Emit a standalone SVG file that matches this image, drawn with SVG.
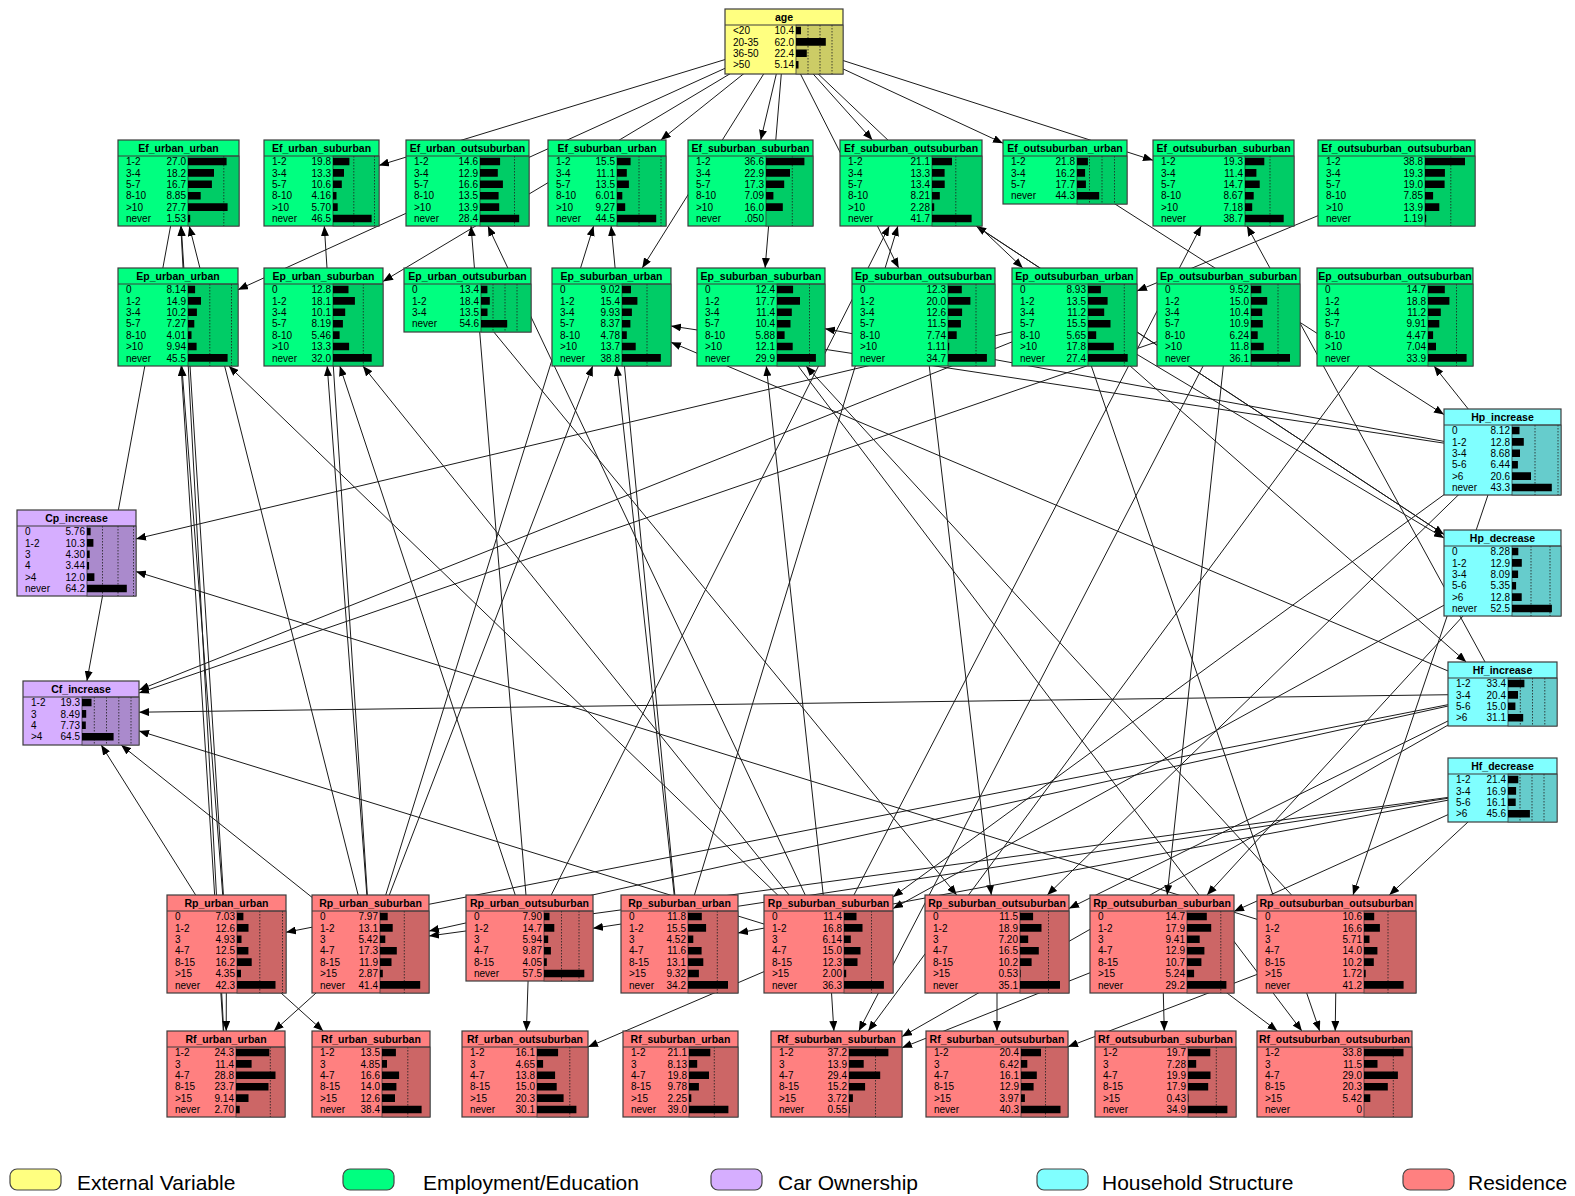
<svg xmlns="http://www.w3.org/2000/svg" width="1575" height="1196" viewBox="0 0 1575 1196">
<defs>
<marker id="ah" markerWidth="10" markerHeight="8" refX="10" refY="4" orient="auto" markerUnits="userSpaceOnUse"><path d="M0,0L10,4L0,8z" fill="#000"/></marker>
<style>
.bx{stroke:#3c3c3c;stroke-width:1.2}
.ba{stroke:#3c3c3c;stroke-width:0.8}
.tl{stroke:#3c3c3c;stroke-width:1;fill:none}
.dt{stroke:#1e1e1e;stroke-width:0.8;stroke-dasharray:1.5 1.5;fill:none}
.br{fill:#000}
.ext .bx{fill:#ffff80}.ext .ba{fill:#cccc66}
.emp .bx{fill:#00ff80}.emp .ba{fill:#00cc66}
.car .bx{fill:#d6aeff}.car .ba{fill:#aa8acc}
.hh .bx{fill:#80ffff}.hh .ba{fill:#66cccc}
.res .bx{fill:#ff8080}.res .ba{fill:#cc6666}
text{font-family:"Liberation Sans",Arial,sans-serif;fill:#000}
.tt{font-size:10.5px;font-weight:bold;text-anchor:middle}
.lb{font-size:10px}
.vl{font-size:10px;text-anchor:end}
.lg{font-size:21px}
.lgb{stroke:#444;stroke-width:1.2}
.ed{stroke:#1a1a1a;stroke-width:1;fill:none;marker-end:url(#ah)}
</style>
</defs>
<rect width="1575" height="1196" fill="#fff"/>
<g id="connectors">
<line class="ed" x1="784" y1="41.5" x2="379" y2="165.4"/>
<line class="ed" x1="784" y1="41.5" x2="238" y2="289.7"/>
<line class="ed" x1="784" y1="41.5" x2="383" y2="281.4"/>
<line class="ed" x1="784" y1="41.5" x2="660.8" y2="140"/>
<line class="ed" x1="784" y1="41.5" x2="642.2" y2="268"/>
<line class="ed" x1="784" y1="41.5" x2="760.7" y2="140"/>
<line class="ed" x1="784" y1="41.5" x2="765.1" y2="268"/>
<line class="ed" x1="784" y1="41.5" x2="872.4" y2="140"/>
<line class="ed" x1="784" y1="41.5" x2="898.7" y2="268"/>
<line class="ed" x1="784" y1="41.5" x2="1022.8" y2="268"/>
<line class="ed" x1="784" y1="41.5" x2="1003" y2="143.2"/>
<line class="ed" x1="784" y1="41.5" x2="1153" y2="160.3"/>
<line class="ed" x1="226.5" y1="944" x2="181.2" y2="226"/>
<line class="ed" x1="226" y1="1074" x2="180.8" y2="226"/>
<line class="ed" x1="370.5" y1="944" x2="189.3" y2="226"/>
<line class="ed" x1="370.5" y1="944" x2="324.3" y2="226"/>
<line class="ed" x1="529.5" y1="938" x2="471" y2="226"/>
<line class="ed" x1="828.5" y1="944" x2="487.9" y2="226"/>
<line class="ed" x1="370.5" y1="944" x2="593.6" y2="226"/>
<line class="ed" x1="679.5" y1="944" x2="611.1" y2="226"/>
<line class="ed" x1="679.5" y1="944" x2="897.9" y2="226"/>
<line class="ed" x1="529.5" y1="938" x2="889.3" y2="226"/>
<line class="ed" x1="1502.5" y1="573" x2="976.2" y2="226"/>
<line class="ed" x1="828.5" y1="944" x2="1201.2" y2="226"/>
<line class="ed" x1="1502.5" y1="694" x2="1247" y2="226"/>
<line class="ed" x1="1396.5" y1="183" x2="1137" y2="291"/>
<line class="ed" x1="828.5" y1="944" x2="228.8" y2="366"/>
<line class="ed" x1="226.5" y1="944" x2="181.8" y2="366"/>
<line class="ed" x1="226" y1="1074" x2="181.1" y2="366"/>
<line class="ed" x1="370.5" y1="944" x2="327.2" y2="366"/>
<line class="ed" x1="529.5" y1="938" x2="339.8" y2="366"/>
<line class="ed" x1="828.5" y1="944" x2="362.9" y2="366"/>
<line class="ed" x1="370.5" y1="944" x2="592.7" y2="366"/>
<line class="ed" x1="679.5" y1="944" x2="616.8" y2="366"/>
<line class="ed" x1="1502.5" y1="452" x2="671" y2="326"/>
<line class="ed" x1="1502.5" y1="694" x2="671" y2="342.2"/>
<line class="ed" x1="1502.5" y1="452" x2="825" y2="328.7"/>
<line class="ed" x1="828.5" y1="944" x2="766.3" y2="366"/>
<line class="ed" x1="1336.5" y1="944" x2="806" y2="366"/>
<line class="ed" x1="1502.5" y1="452" x2="1434" y2="366"/>
<line class="ed" x1="178.5" y1="183" x2="86.9" y2="681"/>
<line class="ed" x1="1074.5" y1="317" x2="139" y2="689.9"/>
<line class="ed" x1="1228.5" y1="317" x2="139" y2="693"/>
<line class="ed" x1="1502.5" y1="694" x2="139" y2="712.2"/>
<line class="ed" x1="828.5" y1="944" x2="139" y2="730.9"/>
<line class="ed" x1="226.5" y1="944" x2="101.2" y2="745"/>
<line class="ed" x1="370.5" y1="944" x2="121.1" y2="745"/>
<line class="ed" x1="1074.5" y1="317" x2="136" y2="538.9"/>
<line class="ed" x1="1336.5" y1="944" x2="136" y2="571.5"/>
<line class="ed" x1="1065" y1="172" x2="1444" y2="414.6"/>
<line class="ed" x1="1074.5" y1="317" x2="1444" y2="538"/>
<line class="ed" x1="1074.5" y1="317" x2="1466.2" y2="662"/>
<line class="ed" x1="911" y1="183" x2="1444" y2="534.4"/>
<line class="ed" x1="1502.5" y1="694" x2="286" y2="932.3"/>
<line class="ed" x1="1502.5" y1="694" x2="429" y2="931.1"/>
<line class="ed" x1="1502.5" y1="790" x2="429" y2="936"/>
<line class="ed" x1="1502.5" y1="790" x2="593" y2="928.3"/>
<line class="ed" x1="1502.5" y1="452" x2="893" y2="896.9"/>
<line class="ed" x1="1502.5" y1="573" x2="893" y2="908.5"/>
<line class="ed" x1="467.5" y1="300" x2="956.7" y2="895"/>
<line class="ed" x1="923.5" y1="317" x2="991.3" y2="895"/>
<line class="ed" x1="1502.5" y1="452" x2="1047.3" y2="895"/>
<line class="ed" x1="1502.5" y1="790" x2="738" y2="933"/>
<line class="ed" x1="1228.5" y1="317" x2="1167.2" y2="895"/>
<line class="ed" x1="1502.5" y1="573" x2="1207" y2="895"/>
<line class="ed" x1="1502.5" y1="790" x2="1234" y2="911.4"/>
<line class="ed" x1="1502.5" y1="452" x2="1353" y2="895"/>
<line class="ed" x1="1502.5" y1="790" x2="1389.3" y2="895"/>
<line class="ed" x1="1502.5" y1="694" x2="1069" y2="908.4"/>
<line class="ed" x1="226.5" y1="944" x2="226.2" y2="1031"/>
<line class="ed" x1="370.5" y1="944" x2="273.8" y2="1031"/>
<line class="ed" x1="226.5" y1="944" x2="323.2" y2="1031"/>
<line class="ed" x1="529.5" y1="938" x2="526.4" y2="1031"/>
<line class="ed" x1="828.5" y1="944" x2="588" y2="1047"/>
<line class="ed" x1="828.5" y1="944" x2="833.9" y2="1031"/>
<line class="ed" x1="1228.5" y1="317" x2="858.8" y2="1031"/>
<line class="ed" x1="1395" y1="317" x2="868.2" y2="1031"/>
<line class="ed" x1="1162" y1="944" x2="902" y2="1047.8"/>
<line class="ed" x1="1502.5" y1="694" x2="902" y2="1036.6"/>
<line class="ed" x1="997" y1="944" x2="997" y2="1031"/>
<line class="ed" x1="1336.5" y1="944" x2="1068" y2="1046.8"/>
<line class="ed" x1="1162" y1="944" x2="1164.3" y2="1031"/>
<line class="ed" x1="1336.5" y1="944" x2="1335.2" y2="1031"/>
<line class="ed" x1="1162" y1="944" x2="1277.4" y2="1031"/>
<line class="ed" x1="761" y1="317" x2="1301.9" y2="1031"/>
<line class="ed" x1="1074.5" y1="317" x2="1319.7" y2="1031"/>
</g>
<g id="age" class="ext" transform="translate(725,9)">
<rect class="bx" width="118" height="65"/><rect class="ba" x="71" y="16" width="47" height="49"/>
<path class="dt" d="M83,16V65M95,16V65M107,16V65"/><path class="tl" d="M0,16H118"/>
<text class="tt" x="59" y="12">age</text>
<text class="lb" x="8" y="25.1">&lt;20</text><text class="vl" x="69" y="25.1">10.4</text>
<text class="lb" x="8" y="36.5">20-35</text><text class="vl" x="69" y="36.5">62.0</text>
<text class="lb" x="8" y="47.9">36-50</text><text class="vl" x="69" y="47.9">22.4</text>
<text class="lb" x="8" y="59.3">&gt;50</text><text class="vl" x="69" y="59.3">5.14</text>
<path class="br" d="M71,17.7h5v7.6h-5zM71,29.1h29.8v7.6h-29.8zM71,40.5h10.8v7.6h-10.8zM71,51.9h2.5v7.6h-2.5z"/>
</g>
<g id="Ef_urban_urban" class="emp" transform="translate(118,140)">
<rect class="bx" width="121" height="86"/><rect class="ba" x="70" y="16" width="51" height="70"/>
<path class="dt" d="M105.8,16V86"/><path class="tl" d="M0,16H121"/>
<text class="tt" x="60.5" y="12">Ef_urban_urban</text>
<text class="lb" x="8" y="25.1">1-2</text><text class="vl" x="68" y="25.1">27.0</text>
<text class="lb" x="8" y="36.5">3-4</text><text class="vl" x="68" y="36.5">18.2</text>
<text class="lb" x="8" y="47.9">5-7</text><text class="vl" x="68" y="47.9">16.7</text>
<text class="lb" x="8" y="59.3">8-10</text><text class="vl" x="68" y="59.3">8.85</text>
<text class="lb" x="8" y="70.7">&gt;10</text><text class="vl" x="68" y="70.7">27.7</text>
<text class="lb" x="8" y="82.1">never</text><text class="vl" x="68" y="82.1">1.53</text>
<path class="br" d="M70,17.7h38.6v7.6h-38.6zM70,29.1h26v7.6h-26zM70,40.5h23.9v7.6h-23.9zM70,51.9h12.7v7.6h-12.7zM70,63.3h39.6v7.6h-39.6zM70,74.7h2.2v7.6h-2.2z"/>
</g>
<g id="Ef_urban_suburban" class="emp" transform="translate(264,140)">
<rect class="bx" width="115" height="86"/><rect class="ba" x="69" y="16" width="46" height="70"/>
<path class="dt" d="M89.8,16V86M110.5,16V86"/><path class="tl" d="M0,16H115"/>
<text class="tt" x="57.5" y="12">Ef_urban_suburban</text>
<text class="lb" x="8" y="25.1">1-2</text><text class="vl" x="67" y="25.1">19.8</text>
<text class="lb" x="8" y="36.5">3-4</text><text class="vl" x="67" y="36.5">13.3</text>
<text class="lb" x="8" y="47.9">5-7</text><text class="vl" x="67" y="47.9">10.6</text>
<text class="lb" x="8" y="59.3">8-10</text><text class="vl" x="67" y="59.3">4.16</text>
<text class="lb" x="8" y="70.7">&gt;10</text><text class="vl" x="67" y="70.7">5.70</text>
<text class="lb" x="8" y="82.1">never</text><text class="vl" x="67" y="82.1">46.5</text>
<path class="br" d="M69,17.7h16.4v7.6h-16.4zM69,29.1h11v7.6h-11zM69,40.5h8.8v7.6h-8.8zM69,51.9h3.5v7.6h-3.5zM69,63.3h4.7v7.6h-4.7zM69,74.7h38.6v7.6h-38.6z"/>
</g>
<g id="Ef_urban_outsuburban" class="emp" transform="translate(406,140)">
<rect class="bx" width="123" height="86"/><rect class="ba" x="74" y="16" width="49" height="70"/>
<path class="dt" d="M108.5,16V86"/><path class="tl" d="M0,16H123"/>
<text class="tt" x="61.5" y="12">Ef_urban_outsuburban</text>
<text class="lb" x="8" y="25.1">1-2</text><text class="vl" x="72" y="25.1">14.6</text>
<text class="lb" x="8" y="36.5">3-4</text><text class="vl" x="72" y="36.5">12.9</text>
<text class="lb" x="8" y="47.9">5-7</text><text class="vl" x="72" y="47.9">16.6</text>
<text class="lb" x="8" y="59.3">8-10</text><text class="vl" x="72" y="59.3">13.5</text>
<text class="lb" x="8" y="70.7">&gt;10</text><text class="vl" x="72" y="70.7">13.9</text>
<text class="lb" x="8" y="82.1">never</text><text class="vl" x="72" y="82.1">28.4</text>
<path class="br" d="M74,17.7h20.1v7.6h-20.1zM74,29.1h17.8v7.6h-17.8zM74,40.5h22.9v7.6h-22.9zM74,51.9h18.6v7.6h-18.6zM74,63.3h19.2v7.6h-19.2zM74,74.7h39.2v7.6h-39.2z"/>
</g>
<g id="Ef_suburban_urban" class="emp" transform="translate(548,140)">
<rect class="bx" width="118" height="86"/><rect class="ba" x="69" y="16" width="49" height="70"/>
<path class="dt" d="M91,16V86M113,16V86"/><path class="tl" d="M0,16H118"/>
<text class="tt" x="59" y="12">Ef_suburban_urban</text>
<text class="lb" x="8" y="25.1">1-2</text><text class="vl" x="67" y="25.1">15.5</text>
<text class="lb" x="8" y="36.5">3-4</text><text class="vl" x="67" y="36.5">11.1</text>
<text class="lb" x="8" y="47.9">5-7</text><text class="vl" x="67" y="47.9">13.5</text>
<text class="lb" x="8" y="59.3">8-10</text><text class="vl" x="67" y="59.3">6.01</text>
<text class="lb" x="8" y="70.7">&gt;10</text><text class="vl" x="67" y="70.7">9.27</text>
<text class="lb" x="8" y="82.1">never</text><text class="vl" x="67" y="82.1">44.5</text>
<path class="br" d="M69,17.7h13.6v7.6h-13.6zM69,29.1h9.8v7.6h-9.8zM69,40.5h11.9v7.6h-11.9zM69,51.9h5.3v7.6h-5.3zM69,63.3h8.2v7.6h-8.2zM69,74.7h39.2v7.6h-39.2z"/>
</g>
<g id="Ef_suburban_suburban" class="emp" transform="translate(688,140)">
<rect class="bx" width="125" height="86"/><rect class="ba" x="78" y="16" width="47" height="70"/>
<path class="dt" d="M104.3,16V86"/><path class="tl" d="M0,16H125"/>
<text class="tt" x="62.5" y="12">Ef_suburban_suburban</text>
<text class="lb" x="8" y="25.1">1-2</text><text class="vl" x="76" y="25.1">36.6</text>
<text class="lb" x="8" y="36.5">3-4</text><text class="vl" x="76" y="36.5">22.9</text>
<text class="lb" x="8" y="47.9">5-7</text><text class="vl" x="76" y="47.9">17.3</text>
<text class="lb" x="8" y="59.3">8-10</text><text class="vl" x="76" y="59.3">7.09</text>
<text class="lb" x="8" y="70.7">&gt;10</text><text class="vl" x="76" y="70.7">16.0</text>
<text class="lb" x="8" y="82.1">never</text><text class="vl" x="76" y="82.1">.050</text>
<path class="br" d="M78,17.7h38.4v7.6h-38.4zM78,29.1h24v7.6h-24zM78,40.5h18.2v7.6h-18.2zM78,51.9h7.4v7.6h-7.4zM78,63.3h16.8v7.6h-16.8z"/>
</g>
<g id="Ef_suburban_outsuburban" class="emp" transform="translate(840,140)">
<rect class="bx" width="142" height="86"/><rect class="ba" x="92" y="16" width="50" height="70"/>
<path class="dt" d="M115.8,16V86"/><path class="tl" d="M0,16H142"/>
<text class="tt" x="71" y="12">Ef_suburban_outsuburban</text>
<text class="lb" x="8" y="25.1">1-2</text><text class="vl" x="90" y="25.1">21.1</text>
<text class="lb" x="8" y="36.5">3-4</text><text class="vl" x="90" y="36.5">13.3</text>
<text class="lb" x="8" y="47.9">5-7</text><text class="vl" x="90" y="47.9">13.4</text>
<text class="lb" x="8" y="59.3">8-10</text><text class="vl" x="90" y="59.3">8.21</text>
<text class="lb" x="8" y="70.7">&gt;10</text><text class="vl" x="90" y="70.7">2.28</text>
<text class="lb" x="8" y="82.1">never</text><text class="vl" x="90" y="82.1">41.7</text>
<path class="br" d="M92,17.7h20v7.6h-20zM92,29.1h12.6v7.6h-12.6zM92,40.5h12.7v7.6h-12.7zM92,51.9h7.8v7.6h-7.8zM92,63.3h2.2v7.6h-2.2zM92,74.7h39.6v7.6h-39.6z"/>
</g>
<g id="Ef_outsuburban_urban" class="emp" transform="translate(1003,140)">
<rect class="bx" width="124" height="64"/><rect class="ba" x="74" y="16" width="50" height="48"/>
<path class="dt" d="M86.5,16V64M99,16V64M111.5,16V64"/><path class="tl" d="M0,16H124"/>
<text class="tt" x="62" y="12">Ef_outsuburban_urban</text>
<text class="lb" x="8" y="25.1">1-2</text><text class="vl" x="72" y="25.1">21.8</text>
<text class="lb" x="8" y="36.5">3-4</text><text class="vl" x="72" y="36.5">16.2</text>
<text class="lb" x="8" y="47.9">5-7</text><text class="vl" x="72" y="47.9">17.7</text>
<text class="lb" x="8" y="59.3">never</text><text class="vl" x="72" y="59.3">44.3</text>
<path class="br" d="M74,17.7h10.9v7.6h-10.9zM74,29.1h8.1v7.6h-8.1zM74,40.5h8.9v7.6h-8.9zM74,51.9h22.2v7.6h-22.2z"/>
</g>
<g id="Ef_outsuburban_suburban" class="emp" transform="translate(1153,140)">
<rect class="bx" width="141" height="86"/><rect class="ba" x="92" y="16" width="49" height="70"/>
<path class="dt" d="M117,16V86"/><path class="tl" d="M0,16H141"/>
<text class="tt" x="70.5" y="12">Ef_outsuburban_suburban</text>
<text class="lb" x="8" y="25.1">1-2</text><text class="vl" x="90" y="25.1">19.3</text>
<text class="lb" x="8" y="36.5">3-4</text><text class="vl" x="90" y="36.5">11.4</text>
<text class="lb" x="8" y="47.9">5-7</text><text class="vl" x="90" y="47.9">14.7</text>
<text class="lb" x="8" y="59.3">8-10</text><text class="vl" x="90" y="59.3">8.67</text>
<text class="lb" x="8" y="70.7">&gt;10</text><text class="vl" x="90" y="70.7">7.18</text>
<text class="lb" x="8" y="82.1">never</text><text class="vl" x="90" y="82.1">38.7</text>
<path class="br" d="M92,17.7h19.3v7.6h-19.3zM92,29.1h11.4v7.6h-11.4zM92,40.5h14.7v7.6h-14.7zM92,51.9h8.7v7.6h-8.7zM92,63.3h7.2v7.6h-7.2zM92,74.7h38.7v7.6h-38.7z"/>
</g>
<g id="Ef_outsuburban_outsuburban" class="emp" transform="translate(1318,140)">
<rect class="bx" width="157" height="86"/><rect class="ba" x="107" y="16" width="50" height="70"/>
<path class="dt" d="M132.8,16V86"/><path class="tl" d="M0,16H157"/>
<text class="tt" x="78.5" y="12">Ef_outsuburban_outsuburban</text>
<text class="lb" x="8" y="25.1">1-2</text><text class="vl" x="105" y="25.1">38.8</text>
<text class="lb" x="8" y="36.5">3-4</text><text class="vl" x="105" y="36.5">19.3</text>
<text class="lb" x="8" y="47.9">5-7</text><text class="vl" x="105" y="47.9">19.0</text>
<text class="lb" x="8" y="59.3">8-10</text><text class="vl" x="105" y="59.3">7.85</text>
<text class="lb" x="8" y="70.7">&gt;10</text><text class="vl" x="105" y="70.7">13.9</text>
<text class="lb" x="8" y="82.1">never</text><text class="vl" x="105" y="82.1">1.19</text>
<path class="br" d="M107,17.7h40v7.6h-40zM107,29.1h19.9v7.6h-19.9zM107,40.5h19.6v7.6h-19.6zM107,51.9h8.1v7.6h-8.1zM107,63.3h14.3v7.6h-14.3zM107,74.7h1.2v7.6h-1.2z"/>
</g>
<g id="Ep_urban_urban" class="emp" transform="translate(118,268)">
<rect class="bx" width="120" height="98"/><rect class="ba" x="70" y="16" width="50" height="82"/>
<path class="dt" d="M91.8,16V98M113.5,16V98"/><path class="tl" d="M0,16H120"/>
<text class="tt" x="60" y="12">Ep_urban_urban</text>
<text class="lb" x="8" y="25.1">0</text><text class="vl" x="68" y="25.1">8.14</text>
<text class="lb" x="8" y="36.5">1-2</text><text class="vl" x="68" y="36.5">14.9</text>
<text class="lb" x="8" y="47.9">3-4</text><text class="vl" x="68" y="47.9">10.2</text>
<text class="lb" x="8" y="59.3">5-7</text><text class="vl" x="68" y="59.3">7.27</text>
<text class="lb" x="8" y="70.7">8-10</text><text class="vl" x="68" y="70.7">4.01</text>
<text class="lb" x="8" y="82.1">&gt;10</text><text class="vl" x="68" y="82.1">9.94</text>
<text class="lb" x="8" y="93.5">never</text><text class="vl" x="68" y="93.5">45.5</text>
<path class="br" d="M70,17.7h7.1v7.6h-7.1zM70,29.1h13v7.6h-13zM70,40.5h8.9v7.6h-8.9zM70,51.9h6.3v7.6h-6.3zM70,63.3h3.5v7.6h-3.5zM70,74.7h8.6v7.6h-8.6zM70,86.1h39.6v7.6h-39.6z"/>
</g>
<g id="Ep_urban_suburban" class="emp" transform="translate(264,268)">
<rect class="bx" width="119" height="98"/><rect class="ba" x="69" y="16" width="50" height="82"/>
<path class="dt" d="M99.3,16V98"/><path class="tl" d="M0,16H119"/>
<text class="tt" x="59.5" y="12">Ep_urban_suburban</text>
<text class="lb" x="8" y="25.1">0</text><text class="vl" x="67" y="25.1">12.8</text>
<text class="lb" x="8" y="36.5">1-2</text><text class="vl" x="67" y="36.5">18.1</text>
<text class="lb" x="8" y="47.9">3-4</text><text class="vl" x="67" y="47.9">10.1</text>
<text class="lb" x="8" y="59.3">5-7</text><text class="vl" x="67" y="59.3">8.19</text>
<text class="lb" x="8" y="70.7">8-10</text><text class="vl" x="67" y="70.7">5.46</text>
<text class="lb" x="8" y="82.1">&gt;10</text><text class="vl" x="67" y="82.1">13.3</text>
<text class="lb" x="8" y="93.5">never</text><text class="vl" x="67" y="93.5">32.0</text>
<path class="br" d="M69,17.7h15.5v7.6h-15.5zM69,29.1h21.9v7.6h-21.9zM69,40.5h12.2v7.6h-12.2zM69,51.9h9.9v7.6h-9.9zM69,63.3h6.6v7.6h-6.6zM69,74.7h16.1v7.6h-16.1zM69,86.1h38.7v7.6h-38.7z"/>
</g>
<g id="Ep_urban_outsuburban" class="emp" transform="translate(404,268)">
<rect class="bx" width="127" height="64"/><rect class="ba" x="77" y="16" width="50" height="48"/>
<path class="dt" d="M89,16V64M101,16V64M113,16V64"/><path class="tl" d="M0,16H127"/>
<text class="tt" x="63.5" y="12">Ep_urban_outsuburban</text>
<text class="lb" x="8" y="25.1">0</text><text class="vl" x="75" y="25.1">13.4</text>
<text class="lb" x="8" y="36.5">1-2</text><text class="vl" x="75" y="36.5">18.4</text>
<text class="lb" x="8" y="47.9">3-4</text><text class="vl" x="75" y="47.9">13.5</text>
<text class="lb" x="8" y="59.3">never</text><text class="vl" x="75" y="59.3">54.6</text>
<path class="br" d="M77,17.7h6.4v7.6h-6.4zM77,29.1h8.8v7.6h-8.8zM77,40.5h6.5v7.6h-6.5zM77,51.9h26.2v7.6h-26.2z"/>
</g>
<g id="Ep_suburban_urban" class="emp" transform="translate(552,268)">
<rect class="bx" width="119" height="98"/><rect class="ba" x="70" y="16" width="49" height="82"/>
<path class="dt" d="M95,16V98"/><path class="tl" d="M0,16H119"/>
<text class="tt" x="59.5" y="12">Ep_suburban_urban</text>
<text class="lb" x="8" y="25.1">0</text><text class="vl" x="68" y="25.1">9.02</text>
<text class="lb" x="8" y="36.5">1-2</text><text class="vl" x="68" y="36.5">15.4</text>
<text class="lb" x="8" y="47.9">3-4</text><text class="vl" x="68" y="47.9">9.93</text>
<text class="lb" x="8" y="59.3">5-7</text><text class="vl" x="68" y="59.3">8.37</text>
<text class="lb" x="8" y="70.7">8-10</text><text class="vl" x="68" y="70.7">4.78</text>
<text class="lb" x="8" y="82.1">&gt;10</text><text class="vl" x="68" y="82.1">13.7</text>
<text class="lb" x="8" y="93.5">never</text><text class="vl" x="68" y="93.5">38.8</text>
<path class="br" d="M70,17.7h9v7.6h-9zM70,29.1h15.4v7.6h-15.4zM70,40.5h9.9v7.6h-9.9zM70,51.9h8.4v7.6h-8.4zM70,63.3h4.8v7.6h-4.8zM70,74.7h13.7v7.6h-13.7zM70,86.1h38.8v7.6h-38.8z"/>
</g>
<g id="Ep_suburban_suburban" class="emp" transform="translate(697,268)">
<rect class="bx" width="128" height="98"/><rect class="ba" x="80" y="16" width="48" height="82"/>
<path class="dt" d="M112.5,16V98"/><path class="tl" d="M0,16H128"/>
<text class="tt" x="64" y="12">Ep_suburban_suburban</text>
<text class="lb" x="8" y="25.1">0</text><text class="vl" x="78" y="25.1">12.4</text>
<text class="lb" x="8" y="36.5">1-2</text><text class="vl" x="78" y="36.5">17.7</text>
<text class="lb" x="8" y="47.9">3-4</text><text class="vl" x="78" y="47.9">11.4</text>
<text class="lb" x="8" y="59.3">5-7</text><text class="vl" x="78" y="59.3">10.4</text>
<text class="lb" x="8" y="70.7">8-10</text><text class="vl" x="78" y="70.7">5.88</text>
<text class="lb" x="8" y="82.1">&gt;10</text><text class="vl" x="78" y="82.1">12.1</text>
<text class="lb" x="8" y="93.5">never</text><text class="vl" x="78" y="93.5">29.9</text>
<path class="br" d="M80,17.7h16.1v7.6h-16.1zM80,29.1h23v7.6h-23zM80,40.5h14.8v7.6h-14.8zM80,51.9h13.5v7.6h-13.5zM80,63.3h7.6v7.6h-7.6zM80,74.7h15.7v7.6h-15.7zM80,86.1h38.9v7.6h-38.9z"/>
</g>
<g id="Ep_suburban_outsuburban" class="emp" transform="translate(852,268)">
<rect class="bx" width="143" height="98"/><rect class="ba" x="96" y="16" width="47" height="82"/>
<path class="dt" d="M124,16V98"/><path class="tl" d="M0,16H143"/>
<text class="tt" x="71.5" y="12">Ep_suburban_outsuburban</text>
<text class="lb" x="8" y="25.1">0</text><text class="vl" x="94" y="25.1">12.3</text>
<text class="lb" x="8" y="36.5">1-2</text><text class="vl" x="94" y="36.5">20.0</text>
<text class="lb" x="8" y="47.9">3-4</text><text class="vl" x="94" y="47.9">12.6</text>
<text class="lb" x="8" y="59.3">5-7</text><text class="vl" x="94" y="59.3">11.5</text>
<text class="lb" x="8" y="70.7">8-10</text><text class="vl" x="94" y="70.7">7.74</text>
<text class="lb" x="8" y="82.1">&gt;10</text><text class="vl" x="94" y="82.1">1.11</text>
<text class="lb" x="8" y="93.5">never</text><text class="vl" x="94" y="93.5">34.7</text>
<path class="br" d="M96,17.7h13.8v7.6h-13.8zM96,29.1h22.4v7.6h-22.4zM96,40.5h14.1v7.6h-14.1zM96,51.9h12.9v7.6h-12.9zM96,63.3h8.7v7.6h-8.7zM96,74.7h1.2v7.6h-1.2zM96,86.1h38.9v7.6h-38.9z"/>
</g>
<g id="Ep_outsuburban_urban" class="emp" transform="translate(1012,268)">
<rect class="bx" width="125" height="98"/><rect class="ba" x="76" y="16" width="49" height="82"/>
<path class="dt" d="M112.3,16V98"/><path class="tl" d="M0,16H125"/>
<text class="tt" x="62.5" y="12">Ep_outsuburban_urban</text>
<text class="lb" x="8" y="25.1">0</text><text class="vl" x="74" y="25.1">8.93</text>
<text class="lb" x="8" y="36.5">1-2</text><text class="vl" x="74" y="36.5">13.5</text>
<text class="lb" x="8" y="47.9">3-4</text><text class="vl" x="74" y="47.9">11.2</text>
<text class="lb" x="8" y="59.3">5-7</text><text class="vl" x="74" y="59.3">15.5</text>
<text class="lb" x="8" y="70.7">8-10</text><text class="vl" x="74" y="70.7">5.65</text>
<text class="lb" x="8" y="82.1">&gt;10</text><text class="vl" x="74" y="82.1">17.8</text>
<text class="lb" x="8" y="93.5">never</text><text class="vl" x="74" y="93.5">27.4</text>
<path class="br" d="M76,17.7h12.9v7.6h-12.9zM76,29.1h19.6v7.6h-19.6zM76,40.5h16.2v7.6h-16.2zM76,51.9h22.5v7.6h-22.5zM76,63.3h8.2v7.6h-8.2zM76,74.7h25.8v7.6h-25.8zM76,86.1h39.7v7.6h-39.7z"/>
</g>
<g id="Ep_outsuburban_suburban" class="emp" transform="translate(1157,268)">
<rect class="bx" width="143" height="98"/><rect class="ba" x="94" y="16" width="49" height="82"/>
<path class="dt" d="M121,16V98"/><path class="tl" d="M0,16H143"/>
<text class="tt" x="71.5" y="12">Ep_outsuburban_suburban</text>
<text class="lb" x="8" y="25.1">0</text><text class="vl" x="92" y="25.1">9.52</text>
<text class="lb" x="8" y="36.5">1-2</text><text class="vl" x="92" y="36.5">15.0</text>
<text class="lb" x="8" y="47.9">3-4</text><text class="vl" x="92" y="47.9">10.4</text>
<text class="lb" x="8" y="59.3">5-7</text><text class="vl" x="92" y="59.3">10.9</text>
<text class="lb" x="8" y="70.7">8-10</text><text class="vl" x="92" y="70.7">6.24</text>
<text class="lb" x="8" y="82.1">&gt;10</text><text class="vl" x="92" y="82.1">11.8</text>
<text class="lb" x="8" y="93.5">never</text><text class="vl" x="92" y="93.5">36.1</text>
<path class="br" d="M94,17.7h10.3v7.6h-10.3zM94,29.1h16.2v7.6h-16.2zM94,40.5h11.2v7.6h-11.2zM94,51.9h11.8v7.6h-11.8zM94,63.3h6.7v7.6h-6.7zM94,74.7h12.7v7.6h-12.7zM94,86.1h39v7.6h-39z"/>
</g>
<g id="Ep_outsuburban_outsuburban" class="emp" transform="translate(1317,268)">
<rect class="bx" width="156" height="98"/><rect class="ba" x="111" y="16" width="45" height="82"/>
<path class="dt" d="M139.5,16V98"/><path class="tl" d="M0,16H156"/>
<text class="tt" x="78" y="12">Ep_outsuburban_outsuburban</text>
<text class="lb" x="8" y="25.1">0</text><text class="vl" x="109" y="25.1">14.7</text>
<text class="lb" x="8" y="36.5">1-2</text><text class="vl" x="109" y="36.5">18.8</text>
<text class="lb" x="8" y="47.9">3-4</text><text class="vl" x="109" y="47.9">11.2</text>
<text class="lb" x="8" y="59.3">5-7</text><text class="vl" x="109" y="59.3">9.91</text>
<text class="lb" x="8" y="70.7">8-10</text><text class="vl" x="109" y="70.7">4.47</text>
<text class="lb" x="8" y="82.1">&gt;10</text><text class="vl" x="109" y="82.1">7.04</text>
<text class="lb" x="8" y="93.5">never</text><text class="vl" x="109" y="93.5">33.9</text>
<path class="br" d="M111,17.7h16.8v7.6h-16.8zM111,29.1h21.4v7.6h-21.4zM111,40.5h12.8v7.6h-12.8zM111,51.9h11.3v7.6h-11.3zM111,63.3h5.1v7.6h-5.1zM111,74.7h8v7.6h-8zM111,86.1h38.6v7.6h-38.6z"/>
</g>
<g id="Cp_increase" class="car" transform="translate(17,510)">
<rect class="bx" width="119" height="86"/><rect class="ba" x="70" y="16" width="49" height="70"/>
<path class="dt" d="M85.5,16V86M101,16V86M116.5,16V86"/><path class="tl" d="M0,16H119"/>
<text class="tt" x="59.5" y="12">Cp_increase</text>
<text class="lb" x="8" y="25.1">0</text><text class="vl" x="68" y="25.1">5.76</text>
<text class="lb" x="8" y="36.5">1-2</text><text class="vl" x="68" y="36.5">10.3</text>
<text class="lb" x="8" y="47.9">3</text><text class="vl" x="68" y="47.9">4.30</text>
<text class="lb" x="8" y="59.3">4</text><text class="vl" x="68" y="59.3">3.44</text>
<text class="lb" x="8" y="70.7">&gt;4</text><text class="vl" x="68" y="70.7">12.0</text>
<text class="lb" x="8" y="82.1">never</text><text class="vl" x="68" y="82.1">64.2</text>
<path class="br" d="M70,17.7h3.6v7.6h-3.6zM70,29.1h6.4v7.6h-6.4zM70,40.5h2.7v7.6h-2.7zM70,51.9h2.1v7.6h-2.1zM70,63.3h7.4v7.6h-7.4zM70,74.7h39.8v7.6h-39.8z"/>
</g>
<g id="Cf_increase" class="car" transform="translate(23,681)">
<rect class="bx" width="116" height="64"/><rect class="ba" x="59" y="16" width="57" height="48"/>
<path class="dt" d="M71.3,16V64M83.5,16V64M95.8,16V64M108,16V64"/><path class="tl" d="M0,16H116"/>
<text class="tt" x="58" y="12">Cf_increase</text>
<text class="lb" x="8" y="25.1">1-2</text><text class="vl" x="57" y="25.1">19.3</text>
<text class="lb" x="8" y="36.5">3</text><text class="vl" x="57" y="36.5">8.49</text>
<text class="lb" x="8" y="47.9">4</text><text class="vl" x="57" y="47.9">7.73</text>
<text class="lb" x="8" y="59.3">&gt;4</text><text class="vl" x="57" y="59.3">64.5</text>
<path class="br" d="M59,17.7h9.5v7.6h-9.5zM59,29.1h4.2v7.6h-4.2zM59,40.5h3.8v7.6h-3.8zM59,51.9h31.6v7.6h-31.6z"/>
</g>
<g id="Hp_increase" class="hh" transform="translate(1444,409)">
<rect class="bx" width="117" height="86"/><rect class="ba" x="68" y="16" width="49" height="70"/>
<path class="dt" d="M91,16V86M114,16V86"/><path class="tl" d="M0,16H117"/>
<text class="tt" x="58.5" y="12">Hp_increase</text>
<text class="lb" x="8" y="25.1">0</text><text class="vl" x="66" y="25.1">8.12</text>
<text class="lb" x="8" y="36.5">1-2</text><text class="vl" x="66" y="36.5">12.8</text>
<text class="lb" x="8" y="47.9">3-4</text><text class="vl" x="66" y="47.9">8.68</text>
<text class="lb" x="8" y="59.3">5-6</text><text class="vl" x="66" y="59.3">6.44</text>
<text class="lb" x="8" y="70.7">&gt;6</text><text class="vl" x="66" y="70.7">20.6</text>
<text class="lb" x="8" y="82.1">never</text><text class="vl" x="66" y="82.1">43.3</text>
<path class="br" d="M68,17.7h7.5v7.6h-7.5zM68,29.1h11.8v7.6h-11.8zM68,40.5h8v7.6h-8zM68,51.9h5.9v7.6h-5.9zM68,63.3h19v7.6h-19zM68,74.7h39.8v7.6h-39.8z"/>
</g>
<g id="Hp_decrease" class="hh" transform="translate(1444,530)">
<rect class="bx" width="117" height="86"/><rect class="ba" x="68" y="16" width="49" height="70"/>
<path class="dt" d="M87,16V86M106,16V86"/><path class="tl" d="M0,16H117"/>
<text class="tt" x="58.5" y="12">Hp_decrease</text>
<text class="lb" x="8" y="25.1">0</text><text class="vl" x="66" y="25.1">8.28</text>
<text class="lb" x="8" y="36.5">1-2</text><text class="vl" x="66" y="36.5">12.9</text>
<text class="lb" x="8" y="47.9">3-4</text><text class="vl" x="66" y="47.9">8.09</text>
<text class="lb" x="8" y="59.3">5-6</text><text class="vl" x="66" y="59.3">5.35</text>
<text class="lb" x="8" y="70.7">&gt;6</text><text class="vl" x="66" y="70.7">12.8</text>
<text class="lb" x="8" y="82.1">never</text><text class="vl" x="66" y="82.1">52.5</text>
<path class="br" d="M68,17.7h6.3v7.6h-6.3zM68,29.1h9.8v7.6h-9.8zM68,40.5h6.1v7.6h-6.1zM68,51.9h4.1v7.6h-4.1zM68,63.3h9.7v7.6h-9.7zM68,74.7h39.9v7.6h-39.9z"/>
</g>
<g id="Hf_increase" class="hh" transform="translate(1448,662)">
<rect class="bx" width="109" height="64"/><rect class="ba" x="60" y="16" width="49" height="48"/>
<path class="dt" d="M72.3,16V64M84.5,16V64M96.8,16V64"/><path class="tl" d="M0,16H109"/>
<text class="tt" x="54.5" y="12">Hf_increase</text>
<text class="lb" x="8" y="25.1">1-2</text><text class="vl" x="58" y="25.1">33.4</text>
<text class="lb" x="8" y="36.5">3-4</text><text class="vl" x="58" y="36.5">20.4</text>
<text class="lb" x="8" y="47.9">5-6</text><text class="vl" x="58" y="47.9">15.0</text>
<text class="lb" x="8" y="59.3">&gt;6</text><text class="vl" x="58" y="59.3">31.1</text>
<path class="br" d="M60,17.7h16.4v7.6h-16.4zM60,29.1h10v7.6h-10zM60,40.5h7.4v7.6h-7.4zM60,51.9h15.2v7.6h-15.2z"/>
</g>
<g id="Hf_decrease" class="hh" transform="translate(1448,758)">
<rect class="bx" width="109" height="64"/><rect class="ba" x="60" y="16" width="49" height="48"/>
<path class="dt" d="M72,16V64M84,16V64M96,16V64"/><path class="tl" d="M0,16H109"/>
<text class="tt" x="54.5" y="12">Hf_decrease</text>
<text class="lb" x="8" y="25.1">1-2</text><text class="vl" x="58" y="25.1">21.4</text>
<text class="lb" x="8" y="36.5">3-4</text><text class="vl" x="58" y="36.5">16.9</text>
<text class="lb" x="8" y="47.9">5-6</text><text class="vl" x="58" y="47.9">16.1</text>
<text class="lb" x="8" y="59.3">&gt;6</text><text class="vl" x="58" y="59.3">45.6</text>
<path class="br" d="M60,17.7h10.3v7.6h-10.3zM60,29.1h8.1v7.6h-8.1zM60,40.5h7.7v7.6h-7.7zM60,51.9h21.9v7.6h-21.9z"/>
</g>
<g id="Rp_urban_urban" class="res" transform="translate(167,895)">
<rect class="bx" width="119" height="98"/><rect class="ba" x="70" y="16" width="49" height="82"/>
<path class="dt" d="M92.8,16V98M115.5,16V98"/><path class="tl" d="M0,16H119"/>
<text class="tt" x="59.5" y="12">Rp_urban_urban</text>
<text class="lb" x="8" y="25.1">0</text><text class="vl" x="68" y="25.1">7.03</text>
<text class="lb" x="8" y="36.5">1-2</text><text class="vl" x="68" y="36.5">12.6</text>
<text class="lb" x="8" y="47.9">3</text><text class="vl" x="68" y="47.9">4.93</text>
<text class="lb" x="8" y="59.3">4-7</text><text class="vl" x="68" y="59.3">12.5</text>
<text class="lb" x="8" y="70.7">8-15</text><text class="vl" x="68" y="70.7">16.2</text>
<text class="lb" x="8" y="82.1">&gt;15</text><text class="vl" x="68" y="82.1">4.35</text>
<text class="lb" x="8" y="93.5">never</text><text class="vl" x="68" y="93.5">42.3</text>
<path class="br" d="M70,17.7h6.4v7.6h-6.4zM70,29.1h11.5v7.6h-11.5zM70,40.5h4.5v7.6h-4.5zM70,51.9h11.4v7.6h-11.4zM70,63.3h14.7v7.6h-14.7zM70,74.7h4v7.6h-4zM70,86.1h38.5v7.6h-38.5z"/>
</g>
<g id="Rp_urban_suburban" class="res" transform="translate(312,895)">
<rect class="bx" width="117" height="98"/><rect class="ba" x="68" y="16" width="49" height="82"/>
<path class="dt" d="M92.3,16V98"/><path class="tl" d="M0,16H117"/>
<text class="tt" x="58.5" y="12">Rp_urban_suburban</text>
<text class="lb" x="8" y="25.1">0</text><text class="vl" x="66" y="25.1">7.97</text>
<text class="lb" x="8" y="36.5">1-2</text><text class="vl" x="66" y="36.5">13.1</text>
<text class="lb" x="8" y="47.9">3</text><text class="vl" x="66" y="47.9">5.42</text>
<text class="lb" x="8" y="59.3">4-7</text><text class="vl" x="66" y="59.3">17.3</text>
<text class="lb" x="8" y="70.7">8-15</text><text class="vl" x="66" y="70.7">11.9</text>
<text class="lb" x="8" y="82.1">&gt;15</text><text class="vl" x="66" y="82.1">2.87</text>
<text class="lb" x="8" y="93.5">never</text><text class="vl" x="66" y="93.5">41.4</text>
<path class="br" d="M68,17.7h7.7v7.6h-7.7zM68,29.1h12.7v7.6h-12.7zM68,40.5h5.3v7.6h-5.3zM68,51.9h16.8v7.6h-16.8zM68,63.3h11.5v7.6h-11.5zM68,74.7h2.8v7.6h-2.8zM68,86.1h40.2v7.6h-40.2z"/>
</g>
<g id="Rp_urban_outsuburban" class="res" transform="translate(466,895)">
<rect class="bx" width="127" height="86"/><rect class="ba" x="78" y="16" width="49" height="70"/>
<path class="dt" d="M95.5,16V86M113,16V86"/><path class="tl" d="M0,16H127"/>
<text class="tt" x="63.5" y="12">Rp_urban_outsuburban</text>
<text class="lb" x="8" y="25.1">0</text><text class="vl" x="76" y="25.1">7.90</text>
<text class="lb" x="8" y="36.5">1-2</text><text class="vl" x="76" y="36.5">14.7</text>
<text class="lb" x="8" y="47.9">3</text><text class="vl" x="76" y="47.9">5.94</text>
<text class="lb" x="8" y="59.3">4-7</text><text class="vl" x="76" y="59.3">9.87</text>
<text class="lb" x="8" y="70.7">8-15</text><text class="vl" x="76" y="70.7">4.05</text>
<text class="lb" x="8" y="82.1">never</text><text class="vl" x="76" y="82.1">57.5</text>
<path class="br" d="M78,17.7h5.5v7.6h-5.5zM78,29.1h10.3v7.6h-10.3zM78,40.5h4.2v7.6h-4.2zM78,51.9h6.9v7.6h-6.9zM78,63.3h2.8v7.6h-2.8zM78,74.7h40.3v7.6h-40.3z"/>
</g>
<g id="Rp_suburban_urban" class="res" transform="translate(621,895)">
<rect class="bx" width="117" height="98"/><rect class="ba" x="67" y="16" width="50" height="82"/>
<path class="dt" d="M96.3,16V98"/><path class="tl" d="M0,16H117"/>
<text class="tt" x="58.5" y="12">Rp_suburban_urban</text>
<text class="lb" x="8" y="25.1">0</text><text class="vl" x="65" y="25.1">11.8</text>
<text class="lb" x="8" y="36.5">1-2</text><text class="vl" x="65" y="36.5">15.5</text>
<text class="lb" x="8" y="47.9">3</text><text class="vl" x="65" y="47.9">4.52</text>
<text class="lb" x="8" y="59.3">4-7</text><text class="vl" x="65" y="59.3">11.6</text>
<text class="lb" x="8" y="70.7">8-15</text><text class="vl" x="65" y="70.7">13.1</text>
<text class="lb" x="8" y="82.1">&gt;15</text><text class="vl" x="65" y="82.1">9.32</text>
<text class="lb" x="8" y="93.5">never</text><text class="vl" x="65" y="93.5">34.2</text>
<path class="br" d="M67,17.7h13.8v7.6h-13.8zM67,29.1h18.1v7.6h-18.1zM67,40.5h5.3v7.6h-5.3zM67,51.9h13.6v7.6h-13.6zM67,63.3h15.3v7.6h-15.3zM67,74.7h10.9v7.6h-10.9zM67,86.1h40v7.6h-40z"/>
</g>
<g id="Rp_suburban_suburban" class="res" transform="translate(764,895)">
<rect class="bx" width="129" height="98"/><rect class="ba" x="80" y="16" width="49" height="82"/>
<path class="dt" d="M107.5,16V98"/><path class="tl" d="M0,16H129"/>
<text class="tt" x="64.5" y="12">Rp_suburban_suburban</text>
<text class="lb" x="8" y="25.1">0</text><text class="vl" x="78" y="25.1">11.4</text>
<text class="lb" x="8" y="36.5">1-2</text><text class="vl" x="78" y="36.5">16.8</text>
<text class="lb" x="8" y="47.9">3</text><text class="vl" x="78" y="47.9">6.14</text>
<text class="lb" x="8" y="59.3">4-7</text><text class="vl" x="78" y="59.3">15.0</text>
<text class="lb" x="8" y="70.7">8-15</text><text class="vl" x="78" y="70.7">12.3</text>
<text class="lb" x="8" y="82.1">&gt;15</text><text class="vl" x="78" y="82.1">2.00</text>
<text class="lb" x="8" y="93.5">never</text><text class="vl" x="78" y="93.5">36.3</text>
<path class="br" d="M80,17.7h12.5v7.6h-12.5zM80,29.1h18.5v7.6h-18.5zM80,40.5h6.8v7.6h-6.8zM80,51.9h16.5v7.6h-16.5zM80,63.3h13.5v7.6h-13.5zM80,74.7h2.2v7.6h-2.2zM80,86.1h39.9v7.6h-39.9z"/>
</g>
<g id="Rp_suburban_outsuburban" class="res" transform="translate(925,895)">
<rect class="bx" width="144" height="98"/><rect class="ba" x="95" y="16" width="49" height="82"/>
<path class="dt" d="M123.5,16V98"/><path class="tl" d="M0,16H144"/>
<text class="tt" x="72" y="12">Rp_suburban_outsuburban</text>
<text class="lb" x="8" y="25.1">0</text><text class="vl" x="93" y="25.1">11.5</text>
<text class="lb" x="8" y="36.5">1-2</text><text class="vl" x="93" y="36.5">18.9</text>
<text class="lb" x="8" y="47.9">3</text><text class="vl" x="93" y="47.9">7.20</text>
<text class="lb" x="8" y="59.3">4-7</text><text class="vl" x="93" y="59.3">16.5</text>
<text class="lb" x="8" y="70.7">8-15</text><text class="vl" x="93" y="70.7">10.2</text>
<text class="lb" x="8" y="82.1">&gt;15</text><text class="vl" x="93" y="82.1">0.53</text>
<text class="lb" x="8" y="93.5">never</text><text class="vl" x="93" y="93.5">35.1</text>
<path class="br" d="M95,17.7h13.1v7.6h-13.1zM95,29.1h21.5v7.6h-21.5zM95,40.5h8.2v7.6h-8.2zM95,51.9h18.8v7.6h-18.8zM95,63.3h11.6v7.6h-11.6zM95,74.7h0.6v7.6h-0.6zM95,86.1h40v7.6h-40z"/>
</g>
<g id="Rp_outsuburban_suburban" class="res" transform="translate(1090,895)">
<rect class="bx" width="144" height="98"/><rect class="ba" x="97" y="16" width="47" height="82"/>
<path class="dt" d="M130.8,16V98"/><path class="tl" d="M0,16H144"/>
<text class="tt" x="72" y="12">Rp_outsuburban_suburban</text>
<text class="lb" x="8" y="25.1">0</text><text class="vl" x="95" y="25.1">14.7</text>
<text class="lb" x="8" y="36.5">1-2</text><text class="vl" x="95" y="36.5">17.9</text>
<text class="lb" x="8" y="47.9">3</text><text class="vl" x="95" y="47.9">9.41</text>
<text class="lb" x="8" y="59.3">4-7</text><text class="vl" x="95" y="59.3">12.9</text>
<text class="lb" x="8" y="70.7">8-15</text><text class="vl" x="95" y="70.7">10.7</text>
<text class="lb" x="8" y="82.1">&gt;15</text><text class="vl" x="95" y="82.1">5.24</text>
<text class="lb" x="8" y="93.5">never</text><text class="vl" x="95" y="93.5">29.2</text>
<path class="br" d="M97,17.7h19.8v7.6h-19.8zM97,29.1h24.2v7.6h-24.2zM97,40.5h12.7v7.6h-12.7zM97,51.9h17.4v7.6h-17.4zM97,63.3h14.4v7.6h-14.4zM97,74.7h7.1v7.6h-7.1zM97,86.1h39.4v7.6h-39.4z"/>
</g>
<g id="Rp_outsuburban_outsuburban" class="res" transform="translate(1257,895)">
<rect class="bx" width="159" height="98"/><rect class="ba" x="107" y="16" width="52" height="82"/>
<path class="dt" d="M131,16V98"/><path class="tl" d="M0,16H159"/>
<text class="tt" x="79.5" y="12">Rp_outsuburban_outsuburban</text>
<text class="lb" x="8" y="25.1">0</text><text class="vl" x="105" y="25.1">10.6</text>
<text class="lb" x="8" y="36.5">1-2</text><text class="vl" x="105" y="36.5">16.6</text>
<text class="lb" x="8" y="47.9">3</text><text class="vl" x="105" y="47.9">5.71</text>
<text class="lb" x="8" y="59.3">4-7</text><text class="vl" x="105" y="59.3">14.0</text>
<text class="lb" x="8" y="70.7">8-15</text><text class="vl" x="105" y="70.7">10.2</text>
<text class="lb" x="8" y="82.1">&gt;15</text><text class="vl" x="105" y="82.1">1.72</text>
<text class="lb" x="8" y="93.5">never</text><text class="vl" x="105" y="93.5">41.2</text>
<path class="br" d="M107,17.7h10.2v7.6h-10.2zM107,29.1h15.9v7.6h-15.9zM107,40.5h5.5v7.6h-5.5zM107,51.9h13.4v7.6h-13.4zM107,63.3h9.8v7.6h-9.8zM107,74.7h1.7v7.6h-1.7zM107,86.1h39.6v7.6h-39.6z"/>
</g>
<g id="Rf_urban_urban" class="res" transform="translate(167,1031)">
<rect class="bx" width="118" height="86"/><rect class="ba" x="69" y="16" width="49" height="70"/>
<path class="dt" d="M103.3,16V86"/><path class="tl" d="M0,16H118"/>
<text class="tt" x="59" y="12">Rf_urban_urban</text>
<text class="lb" x="8" y="25.1">1-2</text><text class="vl" x="67" y="25.1">24.3</text>
<text class="lb" x="8" y="36.5">3</text><text class="vl" x="67" y="36.5">11.4</text>
<text class="lb" x="8" y="47.9">4-7</text><text class="vl" x="67" y="47.9">28.8</text>
<text class="lb" x="8" y="59.3">8-15</text><text class="vl" x="67" y="59.3">23.7</text>
<text class="lb" x="8" y="70.7">&gt;15</text><text class="vl" x="67" y="70.7">9.14</text>
<text class="lb" x="8" y="82.1">never</text><text class="vl" x="67" y="82.1">2.70</text>
<path class="br" d="M69,17.7h33.3v7.6h-33.3zM69,29.1h15.6v7.6h-15.6zM69,40.5h39.5v7.6h-39.5zM69,51.9h32.5v7.6h-32.5zM69,63.3h12.5v7.6h-12.5zM69,74.7h3.7v7.6h-3.7z"/>
</g>
<g id="Rf_urban_suburban" class="res" transform="translate(312,1031)">
<rect class="bx" width="118" height="86"/><rect class="ba" x="70" y="16" width="48" height="70"/>
<path class="dt" d="M95.8,16V86"/><path class="tl" d="M0,16H118"/>
<text class="tt" x="59" y="12">Rf_urban_suburban</text>
<text class="lb" x="8" y="25.1">1-2</text><text class="vl" x="68" y="25.1">13.5</text>
<text class="lb" x="8" y="36.5">3</text><text class="vl" x="68" y="36.5">4.85</text>
<text class="lb" x="8" y="47.9">4-7</text><text class="vl" x="68" y="47.9">16.6</text>
<text class="lb" x="8" y="59.3">8-15</text><text class="vl" x="68" y="59.3">14.0</text>
<text class="lb" x="8" y="70.7">&gt;15</text><text class="vl" x="68" y="70.7">12.6</text>
<text class="lb" x="8" y="82.1">never</text><text class="vl" x="68" y="82.1">38.4</text>
<path class="br" d="M70,17.7h13.9v7.6h-13.9zM70,29.1h5v7.6h-5zM70,40.5h17.1v7.6h-17.1zM70,51.9h14.4v7.6h-14.4zM70,63.3h13v7.6h-13zM70,74.7h39.6v7.6h-39.6z"/>
</g>
<g id="Rf_urban_outsuburban" class="res" transform="translate(462,1031)">
<rect class="bx" width="126" height="86"/><rect class="ba" x="75" y="16" width="51" height="70"/>
<path class="dt" d="M107.8,16V86"/><path class="tl" d="M0,16H126"/>
<text class="tt" x="63" y="12">Rf_urban_outsuburban</text>
<text class="lb" x="8" y="25.1">1-2</text><text class="vl" x="73" y="25.1">16.1</text>
<text class="lb" x="8" y="36.5">3</text><text class="vl" x="73" y="36.5">4.65</text>
<text class="lb" x="8" y="47.9">4-7</text><text class="vl" x="73" y="47.9">13.8</text>
<text class="lb" x="8" y="59.3">8-15</text><text class="vl" x="73" y="59.3">15.0</text>
<text class="lb" x="8" y="70.7">&gt;15</text><text class="vl" x="73" y="70.7">20.3</text>
<text class="lb" x="8" y="82.1">never</text><text class="vl" x="73" y="82.1">30.1</text>
<path class="br" d="M75,17.7h21.1v7.6h-21.1zM75,29.1h6.1v7.6h-6.1zM75,40.5h18.1v7.6h-18.1zM75,51.9h19.7v7.6h-19.7zM75,63.3h26.6v7.6h-26.6zM75,74.7h39.4v7.6h-39.4z"/>
</g>
<g id="Rf_suburban_urban" class="res" transform="translate(623,1031)">
<rect class="bx" width="115" height="86"/><rect class="ba" x="66" y="16" width="49" height="70"/>
<path class="dt" d="M91.3,16V86"/><path class="tl" d="M0,16H115"/>
<text class="tt" x="57.5" y="12">Rf_suburban_urban</text>
<text class="lb" x="8" y="25.1">1-2</text><text class="vl" x="64" y="25.1">21.1</text>
<text class="lb" x="8" y="36.5">3</text><text class="vl" x="64" y="36.5">8.13</text>
<text class="lb" x="8" y="47.9">4-7</text><text class="vl" x="64" y="47.9">19.8</text>
<text class="lb" x="8" y="59.3">8-15</text><text class="vl" x="64" y="59.3">9.78</text>
<text class="lb" x="8" y="70.7">&gt;15</text><text class="vl" x="64" y="70.7">2.25</text>
<text class="lb" x="8" y="82.1">never</text><text class="vl" x="64" y="82.1">39.0</text>
<path class="br" d="M66,17.7h21.3v7.6h-21.3zM66,29.1h8.2v7.6h-8.2zM66,40.5h20v7.6h-20zM66,51.9h9.9v7.6h-9.9zM66,63.3h2.3v7.6h-2.3zM66,74.7h39.4v7.6h-39.4z"/>
</g>
<g id="Rf_suburban_suburban" class="res" transform="translate(771,1031)">
<rect class="bx" width="131" height="86"/><rect class="ba" x="78" y="16" width="53" height="70"/>
<path class="dt" d="M104.5,16V86"/><path class="tl" d="M0,16H131"/>
<text class="tt" x="65.5" y="12">Rf_suburban_suburban</text>
<text class="lb" x="8" y="25.1">1-2</text><text class="vl" x="76" y="25.1">37.2</text>
<text class="lb" x="8" y="36.5">3</text><text class="vl" x="76" y="36.5">13.9</text>
<text class="lb" x="8" y="47.9">4-7</text><text class="vl" x="76" y="47.9">29.4</text>
<text class="lb" x="8" y="59.3">8-15</text><text class="vl" x="76" y="59.3">15.2</text>
<text class="lb" x="8" y="70.7">&gt;15</text><text class="vl" x="76" y="70.7">3.72</text>
<text class="lb" x="8" y="82.1">never</text><text class="vl" x="76" y="82.1">0.55</text>
<path class="br" d="M78,17.7h39.4v7.6h-39.4zM78,29.1h14.7v7.6h-14.7zM78,40.5h31.2v7.6h-31.2zM78,51.9h16.1v7.6h-16.1zM78,63.3h3.9v7.6h-3.9zM78,74.7h0.6v7.6h-0.6z"/>
</g>
<g id="Rf_suburban_outsuburban" class="res" transform="translate(926,1031)">
<rect class="bx" width="142" height="86"/><rect class="ba" x="95" y="16" width="47" height="70"/>
<path class="dt" d="M119.5,16V86"/><path class="tl" d="M0,16H142"/>
<text class="tt" x="71" y="12">Rf_suburban_outsuburban</text>
<text class="lb" x="8" y="25.1">1-2</text><text class="vl" x="93" y="25.1">20.4</text>
<text class="lb" x="8" y="36.5">3</text><text class="vl" x="93" y="36.5">6.42</text>
<text class="lb" x="8" y="47.9">4-7</text><text class="vl" x="93" y="47.9">16.1</text>
<text class="lb" x="8" y="59.3">8-15</text><text class="vl" x="93" y="59.3">12.9</text>
<text class="lb" x="8" y="70.7">&gt;15</text><text class="vl" x="93" y="70.7">3.97</text>
<text class="lb" x="8" y="82.1">never</text><text class="vl" x="93" y="82.1">40.3</text>
<path class="br" d="M95,17.7h20v7.6h-20zM95,29.1h6.3v7.6h-6.3zM95,40.5h15.8v7.6h-15.8zM95,51.9h12.6v7.6h-12.6zM95,63.3h3.9v7.6h-3.9zM95,74.7h39.5v7.6h-39.5z"/>
</g>
<g id="Rf_outsuburban_suburban" class="res" transform="translate(1095,1031)">
<rect class="bx" width="141" height="86"/><rect class="ba" x="93" y="16" width="48" height="70"/>
<path class="dt" d="M121.3,16V86"/><path class="tl" d="M0,16H141"/>
<text class="tt" x="70.5" y="12">Rf_outsuburban_suburban</text>
<text class="lb" x="8" y="25.1">1-2</text><text class="vl" x="91" y="25.1">19.7</text>
<text class="lb" x="8" y="36.5">3</text><text class="vl" x="91" y="36.5">7.28</text>
<text class="lb" x="8" y="47.9">4-7</text><text class="vl" x="91" y="47.9">19.9</text>
<text class="lb" x="8" y="59.3">8-15</text><text class="vl" x="91" y="59.3">17.9</text>
<text class="lb" x="8" y="70.7">&gt;15</text><text class="vl" x="91" y="70.7">0.43</text>
<text class="lb" x="8" y="82.1">never</text><text class="vl" x="91" y="82.1">34.9</text>
<path class="br" d="M93,17.7h22.3v7.6h-22.3zM93,29.1h8.2v7.6h-8.2zM93,40.5h22.5v7.6h-22.5zM93,51.9h20.2v7.6h-20.2zM93,63.3h0.5v7.6h-0.5zM93,74.7h39.4v7.6h-39.4z"/>
</g>
<g id="Rf_outsuburban_outsuburban" class="res" transform="translate(1257,1031)">
<rect class="bx" width="155" height="86"/><rect class="ba" x="107" y="16" width="48" height="70"/>
<path class="dt" d="M136.3,16V86"/><path class="tl" d="M0,16H155"/>
<text class="tt" x="77.5" y="12">Rf_outsuburban_outsuburban</text>
<text class="lb" x="8" y="25.1">1-2</text><text class="vl" x="105" y="25.1">33.8</text>
<text class="lb" x="8" y="36.5">3</text><text class="vl" x="105" y="36.5">11.5</text>
<text class="lb" x="8" y="47.9">4-7</text><text class="vl" x="105" y="47.9">29.0</text>
<text class="lb" x="8" y="59.3">8-15</text><text class="vl" x="105" y="59.3">20.3</text>
<text class="lb" x="8" y="70.7">&gt;15</text><text class="vl" x="105" y="70.7">5.42</text>
<text class="lb" x="8" y="82.1">never</text><text class="vl" x="105" y="82.1">0</text>
<path class="br" d="M107,17.7h39.5v7.6h-39.5zM107,29.1h13.5v7.6h-13.5zM107,40.5h33.9v7.6h-33.9zM107,51.9h23.8v7.6h-23.8zM107,63.3h6.3v7.6h-6.3z"/>
</g>
<g id="legend">
<rect class="lgb" x="10" y="1169" width="51" height="21" rx="7" fill="#ffff80"/><text class="lg" x="77" y="1190">External Variable</text>
<rect class="lgb" x="343" y="1169" width="51" height="21" rx="7" fill="#00ff80"/><text class="lg" x="423" y="1190">Employment/Education</text>
<rect class="lgb" x="711" y="1169" width="51" height="21" rx="7" fill="#d6aeff"/><text class="lg" x="778" y="1190">Car Ownership</text>
<rect class="lgb" x="1037" y="1169" width="51" height="21" rx="7" fill="#80ffff"/><text class="lg" x="1102" y="1190">Household Structure</text>
<rect class="lgb" x="1403" y="1169" width="51" height="21" rx="7" fill="#ff8080"/><text class="lg" x="1468" y="1190">Residence</text>
</g>
</svg>
